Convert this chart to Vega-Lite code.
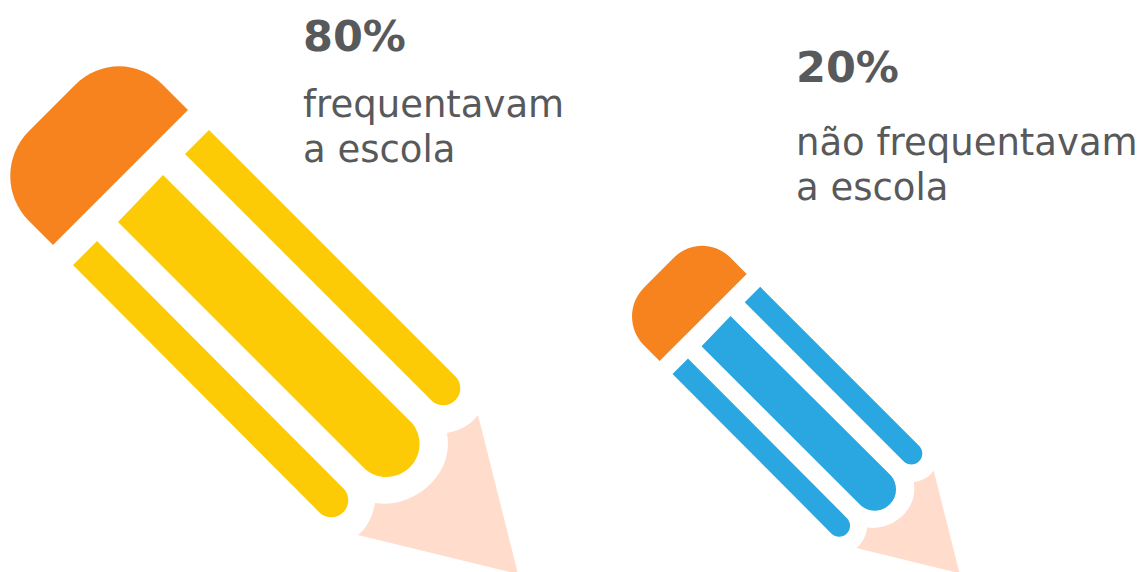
{
  "$schema": "https://vega.github.io/schema/vega-lite/v6.json",
  "width": 1144,
  "height": 572,
  "padding": 0,
  "autosize": "none",
  "background": "white",
  "view": {"stroke": null},
  "config": {"style": {"cell": {"stroke": null}}},
  "data": {"values": [
    {"share": 80, "percent": "80%", "label": "frequentavam\na escola"},
    {"share": 20, "percent": "20%", "label": "não frequentavam\na escola"}
  ]},
  "encoding": {
    "x": {"field": "share", "type": "quantitative", "axis": null, "scale": {"domain": [80, 20], "range": [264, 795.7], "nice": false, "zero": false}},
    "y": {"field": "share", "type": "quantitative", "axis": null, "scale": {"domain": [80, 20], "range": [320, 409.4], "nice": false, "zero": false}},
    "size": {"field": "share", "type": "quantitative", "legend": null, "scale": {"domain": [20, 80], "range": [1.664, 4], "nice": false, "zero": false}}
  },
  "layer": [
    {
      "mark": {"type": "point", "filled": true, "opacity": 1, "strokeWidth": 0, "color": "#FFDCCB",
        "shape": "M214 95L254 254L94 215C103 208 109 196 111 183C148 189 191 156 183 113C194 111 206 106 214 95Z"}
    },
    {
      "mark": {"type": "point", "filled": true, "opacity": 1, "strokeWidth": 0, "color": "#F7831F",
        "shape": "M-76 -210L-101 -235C-126 -260 -164 -260 -189 -235L-235 -189C-260 -164 -260 -124 -235 -99L-211 -75Z"}
    },
    {
      "mark": {"type": "point", "filled": true, "opacity": 1, "strokeWidth": 0,
        "shape": "M-55 -190L192 57A17 17 0 0 1 168 81L-79 -166ZM-101 -145L148 103A33 33 0 0 1 101 149L-146 -98ZM-167 -79L80 169A17 17 0 0 1 56 193L-191 -55Z"},
      "encoding": {
        "color": {"field": "share", "type": "nominal", "legend": null, "scale": {"domain": [80, 20], "range": ["#FCCB05", "#2AA7E0"]}}
      }
    },
    {
      "mark": {"type": "text", "align": "left", "baseline": "alphabetic", "font": "DejaVu Sans", "fontWeight": "bold", "fontSize": 43, "color": "#58595B"},
      "encoding": {
        "x": {"field": "share", "type": "quantitative", "axis": null, "scale": {"domain": [80, 20], "range": [303, 796], "nice": false, "zero": false}},
        "y": {"field": "share", "type": "quantitative", "axis": null, "scale": {"domain": [80, 20], "range": [51, 82], "nice": false, "zero": false}},
        "size": {"value": 43},
        "text": {"field": "percent", "type": "nominal"}
      }
    },
    {
      "mark": {"type": "text", "align": "left", "baseline": "alphabetic", "font": "DejaVu Sans", "fontSize": 37, "lineBreak": "\n", "lineHeight": 45, "color": "#58595B"},
      "encoding": {
        "x": {"field": "share", "type": "quantitative", "axis": null, "scale": {"domain": [80, 20], "range": [303, 796], "nice": false, "zero": false}},
        "y": {"field": "share", "type": "quantitative", "axis": null, "scale": {"domain": [80, 20], "range": [117, 155], "nice": false, "zero": false}},
        "size": {"value": 37},
        "text": {"field": "label", "type": "nominal"}
      }
    }
  ],
  "resolve": {"scale": {"x": "independent", "y": "independent"}}
}
